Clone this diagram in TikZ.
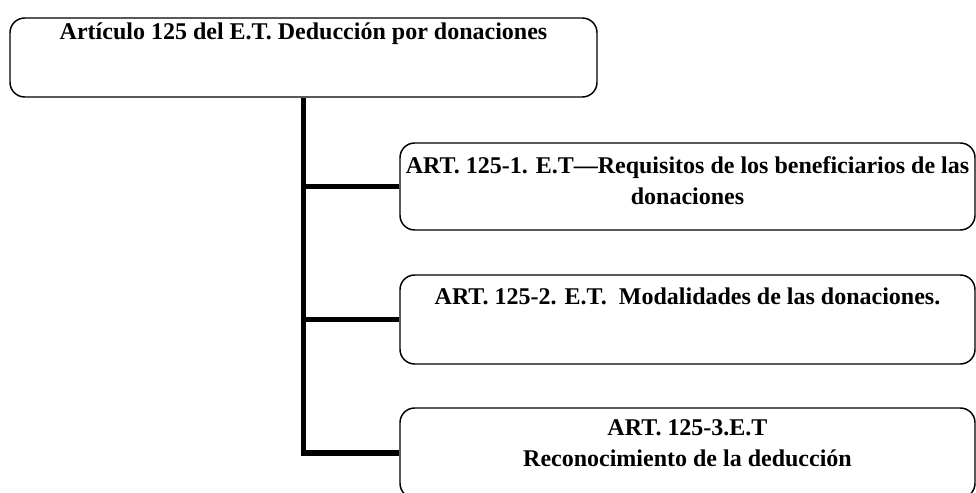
\documentclass[tikz,border=0pt]{standalone}
\usepackage{fontspec}
\setmainfont{Liberation Serif}
\usetikzlibrary{positioning}

\tikzset{
  caja/.style={draw, line width=1.1pt, rounded corners=11pt, inner sep=0pt},
  texto/.style={font=\bfseries\fontsize{18}{23}\selectfont, align=center, inner sep=0pt},
  rama/.style={line width=3.8pt}
}

\begin{document}
\begin{tikzpicture}[x=0.75pt, y=-0.75pt]
\useasboundingbox (0,0) rectangle (976,493);
\clip (0,0) rectangle (976,493);

% cajas
\node[caja, minimum width=587*0.75pt, minimum height=79*0.75pt] (art) at (303.5,57.5) {};
\node[caja, minimum width=575*0.75pt, minimum height=87*0.75pt] (req) at (687.5,186.5) {};
\node[caja, minimum width=575*0.75pt, minimum height=89*0.75pt] (mod) at (687.5,319.5) {};
\node[caja, minimum width=575*0.75pt, minimum height=90*0.75pt] (rec) at (687.5,453) {};

% textos
\node[texto, below=4pt of art.north] (tart) {Artículo 125 del E.T. Deducción por donaciones};
\node[texto, below=10.5pt of req.north] (treq) {ART. 125-1. E.T---Requisitos de los beneficiarios de las\\donaciones};
\node[texto, below=10pt of mod.north] (tmod) {ART. 125-2. E.T.\ \ Modalidades de las donaciones.};
\node[texto, below=9pt of rec.north] (trec) {ART. 125-3.E.T\\Reconocimiento de la deducción};

% conectores
\draw[rama] (art.south) |- (rec.west);
\draw[rama] (art.south |- req.west) -- (req.west);
\draw[rama] (art.south |- mod.west) -- (mod.west);
\end{tikzpicture}
\end{document}
